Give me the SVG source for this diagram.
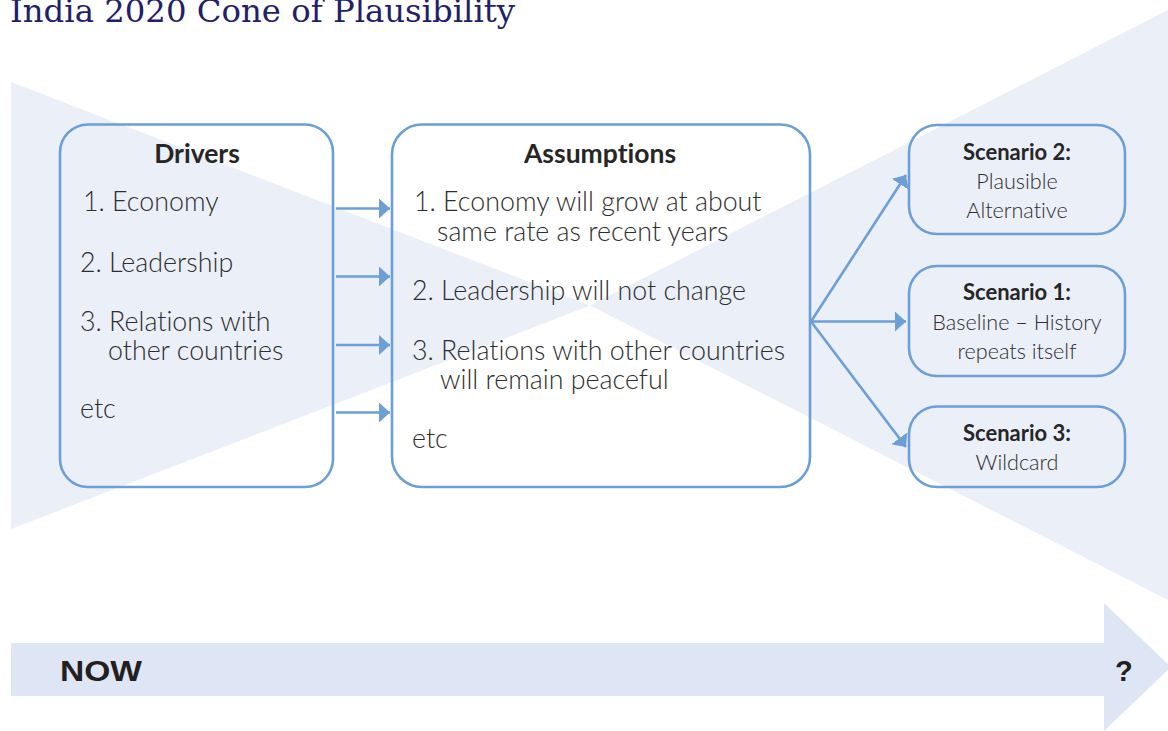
<svg xmlns="http://www.w3.org/2000/svg" width="1168" height="731" viewBox="0 0 1168 731">
<style>
.cone{fill:#EAEFF8}
.box{fill:none;stroke:#6C9FD6;stroke-width:2.6}
text{font-variant-ligatures:none}
.t{font-family:Lato,"Open Sans","Liberation Sans",sans-serif;fill:#2E2E2E;font-size:26.8px;font-weight:300}
.h{font-family:Lato,"Open Sans","Liberation Sans",sans-serif;fill:#262626;font-size:26.5px;font-weight:bold}
.st{font-family:Lato,"Open Sans","Liberation Sans",sans-serif;fill:#2E2E2E;font-size:21.6px;font-weight:300;text-anchor:middle}
.sh{font-family:Lato,"Open Sans","Liberation Sans",sans-serif;fill:#262626;font-size:22px;font-weight:bold;text-anchor:middle}
.c{fill:none;stroke:#6C9FD6;stroke-width:2.6}
.big{font-family:"Liberation Sans",Arial,sans-serif;font-weight:bold;font-size:29px;fill:#231F20}
</style>
<defs>
<marker id="ah" markerUnits="userSpaceOnUse" markerWidth="12" markerHeight="20" refX="11" refY="10" orient="auto">
<path d="M0,0 L11,10 L0,20 Z" fill="#6C9FD6"/>
</marker>
</defs>

<text x="10" y="22" font-family="'DejaVu Serif','Liberation Serif',serif" font-size="31" fill="#231E68" textLength="505" lengthAdjust="spacingAndGlyphs">India 2020 Cone of Plausibility</text>

<g id="cones">
<polygon class="cone" points="11,82 590,305.5 11,529"/>
<polygon class="cone" points="590,305.5 1168,10 1168,600"/>
</g>

<g id="timeline">
<polygon points="11,643 1104,643 1104,603 1171,667 1104,731 1104,696 11,696" fill="#DEE5F4"/>
<text class="big" x="60" y="681" textLength="82" lengthAdjust="spacingAndGlyphs">NOW</text>
<text class="big" x="1115" y="681">?</text>
</g>

<g id="drivers">
<rect class="box" x="60" y="124.5" width="273" height="362.5" rx="28"/>
<text class="h" x="197" y="162.5" text-anchor="middle">Drivers</text>
<text class="t" x="83" y="211">1. Economy</text>
<text class="t" x="80" y="271.5">2. Leadership</text>
<text class="t" x="80" y="330.5">3. Relations with</text>
<text class="t" x="108" y="360">other countries</text>
<text class="t" x="80" y="418">etc</text>
</g>

<g id="assumptions">
<rect class="box" x="392" y="124.5" width="418" height="362.5" rx="30"/>
<text class="h" x="600" y="162.5" text-anchor="middle">Assumptions</text>
<text class="t" x="414" y="211">1. Economy will grow at about</text>
<text class="t" x="437" y="240.5">same rate as recent years</text>
<text class="t" x="412" y="300">2. Leadership will not change</text>
<text class="t" x="412" y="360">3. Relations with other countries</text>
<text class="t" x="440" y="388.5">will remain peaceful</text>
<text class="t" x="412" y="448">etc</text>
</g>

<g id="scenario2">
<rect class="box" x="909" y="125" width="216" height="109" rx="28"/>
<text class="sh" x="1017" y="160">Scenario 2:</text>
<text class="st" x="1017" y="189">Plausible</text>
<text class="st" x="1017" y="218">Alternative</text>
</g>

<g id="scenario1">
<rect class="box" x="909" y="266" width="216" height="110" rx="28"/>
<text class="sh" x="1017" y="300">Scenario 1:</text>
<text class="st" x="1017" y="330">Baseline – History</text>
<text class="st" x="1017" y="359">repeats itself</text>
</g>

<g id="scenario3">
<rect class="box" x="909" y="406.5" width="216" height="80.5" rx="28"/>
<text class="sh" x="1017" y="441">Scenario 3:</text>
<text class="st" x="1017" y="470">Wildcard</text>
</g>

<g id="connectors">
<line class="c" x1="336" y1="208.5" x2="390" y2="208.5" marker-end="url(#ah)"/>
<line class="c" x1="336" y1="276.5" x2="390" y2="276.5" marker-end="url(#ah)"/>
<line class="c" x1="336" y1="345" x2="390" y2="345" marker-end="url(#ah)"/>
<line class="c" x1="336" y1="412.5" x2="390" y2="412.5" marker-end="url(#ah)"/>
<line class="c" x1="811" y1="321.5" x2="906" y2="175" marker-end="url(#ah)"/>
<line class="c" x1="811" y1="321.5" x2="906" y2="321.5" marker-end="url(#ah)"/>
<line class="c" x1="811" y1="321.5" x2="906" y2="447" marker-end="url(#ah)"/>
</g>
</svg>
